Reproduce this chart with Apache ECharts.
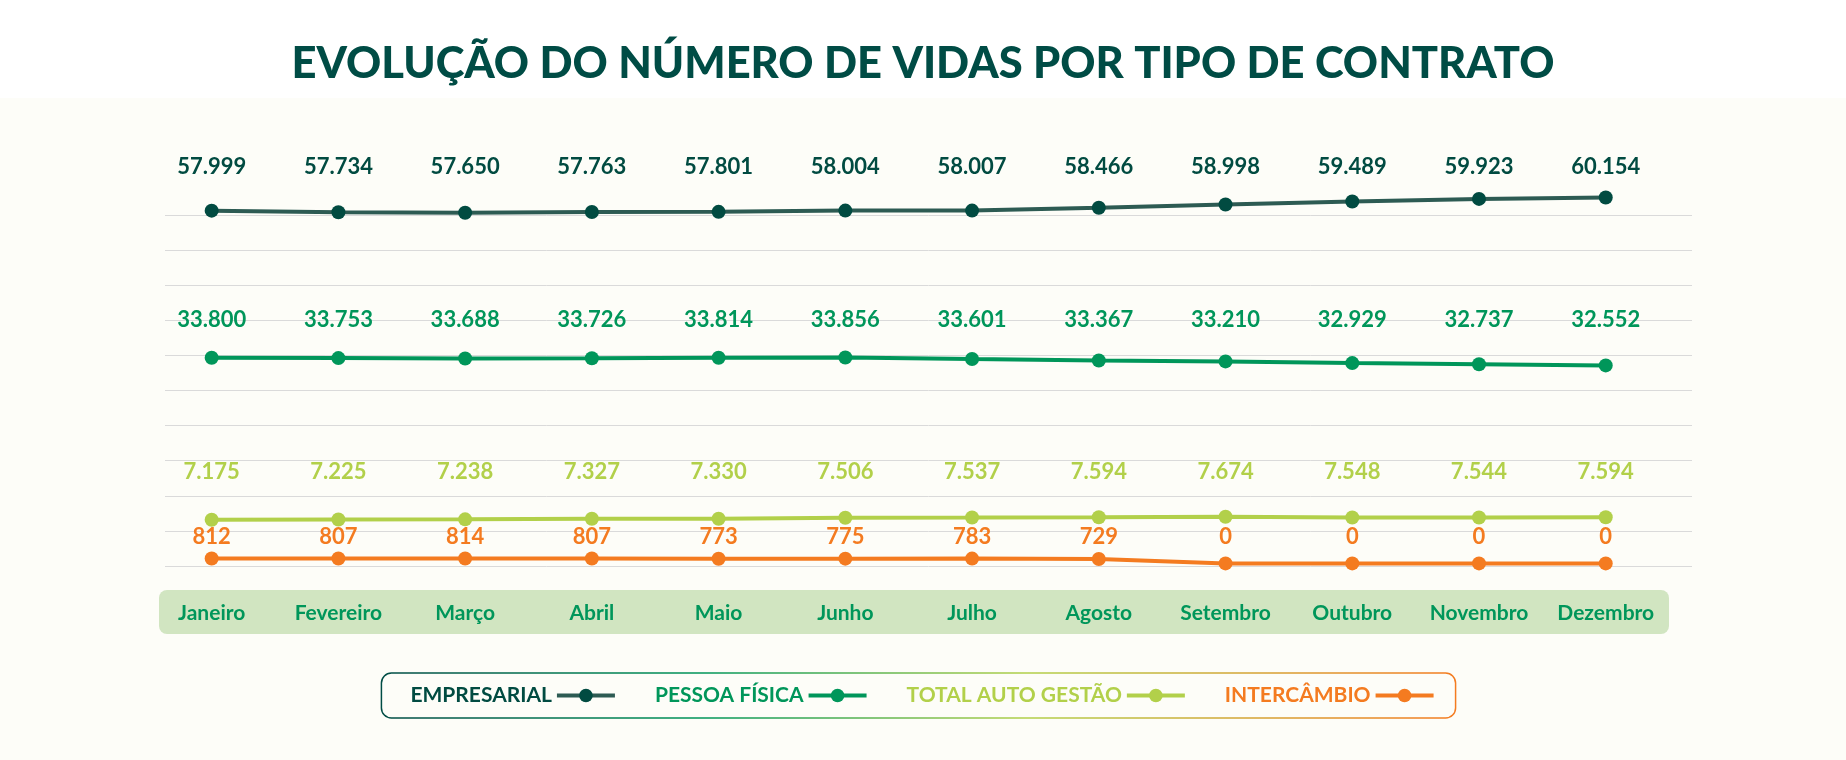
<!DOCTYPE html>
<html>
<head>
<meta charset="utf-8">
<title>Evolução do número de vidas</title>
<script src="https://cdn.jsdelivr.net/npm/echarts@6/dist/echarts.min.js"></script>
<style>
  html, body { margin: 0; padding: 0; background: #ffffff; }
  #chart { width: 1846px; height: 760px; }
</style>
</head>
<body>
<div id="chart"></div>
<script>
const months = ['Janeiro', 'Fevereiro', 'Março', 'Abril', 'Maio', 'Junho',
  'Julho', 'Agosto', 'Setembro', 'Outubro', 'Novembro', 'Dezembro'];
const empresarial = [57999, 57734, 57650, 57763, 57801, 58004, 58007, 58466, 58998, 59489, 59923, 60154];
const pessoaFisica = [33800, 33753, 33688, 33726, 33814, 33856, 33601, 33367, 33210, 32929, 32737, 32552];
const autoGestao = [7175, 7225, 7238, 7327, 7330, 7506, 7537, 7594, 7674, 7548, 7544, 7594];
const intercambio = [812, 807, 814, 807, 773, 775, 783, 729, 0, 0, 0, 0];

const chart = echarts.init(document.getElementById('chart'));

// 57999 -> "57.999"
const fmt = v => String(v).replace(/\B(?=(\d{3})+(?!\d))/g, '.');

function lineSeries(name, values, color, lineColor, labelGap) {
  return {
    name: name,
    type: 'line',
    data: values,
    xAxisIndex: 1,
    yAxisIndex: 1,
    symbol: 'circle',
    symbolSize: 14,
    clip: false,
    lineStyle: { color: lineColor, width: 4 },
    itemStyle: { color: color },
    label: {
      show: true,
      color: color,
      fontFamily: 'Lato',
      fontWeight: 'bold',
      fontSize: 22,
      formatter: p => fmt(p.value)
    },
    // every label of a series sits on one row above the series maximum
    labelLayout: function () {
      const top = chart.convertToPixel({ gridIndex: 1 }, [0, Math.max.apply(null, values)])[1];
      return { y: top - labelGap, align: 'center', verticalAlign: 'middle' };
    },
    emphasis: { disabled: true }
  };
}

const option = {
  backgroundColor: '#ffffff',
  animation: false,
  title: {
    text: 'EVOLUÇÃO DO NÚMERO DE VIDAS POR TIPO DE CONTRATO',
    left: 'center',
    top: 37,
    textStyle: { fontFamily: 'Lato', fontWeight: 900, fontSize: 43.5, color: '#004c45' }
  },
  graphic: [
    { type: 'rect', z: -2, shape: { x: 0, y: 98, width: 1846, height: 662 }, style: { fill: '#fdfdf8' } },
    { type: 'rect', z: -1, shape: { x: 159, y: 590, width: 1510, height: 44, r: 8 }, style: { fill: '#d1e5c1' } }
  ],
  legend: {
    left: 'center',
    top: 673,
    align: 'right',
    itemWidth: 58,
    itemHeight: 17,
    itemGap: 38,
    padding: [12, 20, 12, 29],
    borderRadius: 10,
    borderWidth: 1.5,
    borderColor: {
      type: 'linear', x: 0, y: 0, x2: 1, y2: 0,
      colorStops: [
        { offset: 0, color: '#004c45' },
        { offset: 0.3, color: '#00965a' },
        { offset: 0.6, color: '#b2d04a' },
        { offset: 1, color: '#f47b20' }
      ]
    },
    lineStyle: { width: 4 },
    textStyle: { fontFamily: 'Lato', fontWeight: 'bold', fontSize: 21 },
    data: [
      { name: 'EMPRESARIAL', textStyle: { color: '#014b41' } },
      { name: 'PESSOA FÍSICA', textStyle: { color: '#00965a' } },
      { name: 'TOTAL AUTO GESTÃO', textStyle: { color: '#b2d04a' } },
      { name: 'INTERCÂMBIO', textStyle: { color: '#f47b20' } }
    ]
  },
  grid: [
    // background rules
    { left: 165, right: 154, top: 215, height: 351 },
    // data
    { left: 148.3, width: 1520.8, top: 215, height: 351 }
  ],
  xAxis: [
    { gridIndex: 0, type: 'value', show: false },
    {
      gridIndex: 1,
      type: 'category',
      data: months,
      boundaryGap: true,
      axisLine: { show: false },
      axisTick: { show: false },
      axisLabel: {
        interval: 0,
        margin: 37,
        color: '#00965a',
        fontFamily: 'Lato',
        fontWeight: 'bold',
        fontSize: 21
      }
    }
  ],
  yAxis: [
    {
      gridIndex: 0,
      type: 'value',
      min: 0,
      max: 10,
      interval: 1,
      axisLine: { show: false },
      axisTick: { show: false },
      axisLabel: { show: false },
      splitLine: { lineStyle: { color: '#dadada', width: 1 } }
    },
    { gridIndex: 1, type: 'value', min: -430, max: 57280, show: false }
  ],
  series: [
    lineSeries('EMPRESARIAL', empresarial, '#014b41', '#2d5b53', 31),
    lineSeries('PESSOA FÍSICA', pessoaFisica, '#00965a', '#00965a', 38),
    lineSeries('TOTAL AUTO GESTÃO', autoGestao, '#b2d04a', '#b2d04a', 45),
    lineSeries('INTERCÂMBIO', intercambio, '#f47b20', '#f47b20', 21.5)
  ]
};

chart.setOption(option);
</script>
</body>
</html>
